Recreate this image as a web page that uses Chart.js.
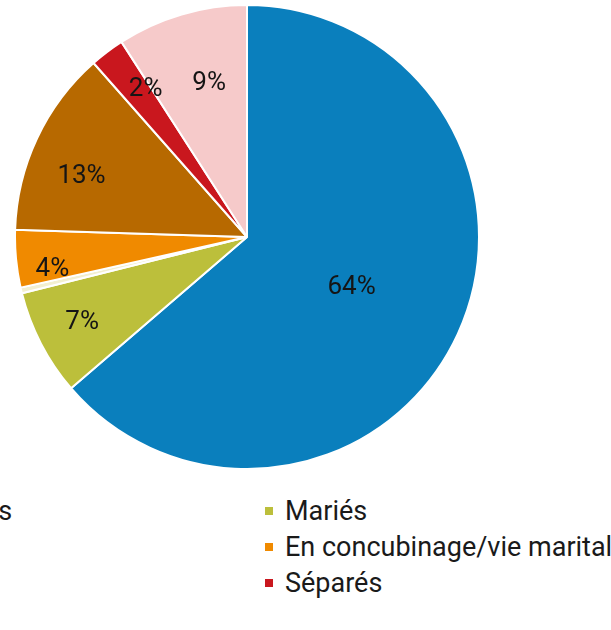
<!DOCTYPE html>
<html>
<head>
<meta charset="utf-8">
<script src="https://cdn.jsdelivr.net/npm/chart.js@4"></script>
<style>
  html, body { margin: 0; padding: 0; overflow: hidden; background: #fff; width: 611px; height: 630px; }
  #wrap { position: absolute; left: 14px; top: 4px; width: 466px; height: 466px; }
  #legend {
    position: absolute; left: -150px; top: 493px;
    display: grid; grid-template-columns: 415px 415px; grid-auto-rows: 36px;
    font-family: Roboto, "Noto Sans", sans-serif; font-size: 27px; color: #1a1a1a;
  }
  .item { display: flex; align-items: center; white-space: nowrap; }
  .box { width: 8px; height: 8px; margin-right: 12px; flex: none; }
</style>
</head>
<body>
<div id="wrap"><canvas id="pieChart"></canvas></div>
<div id="legend"></div>
<script>
// Data
const categories = [
  "Célibataires",
  "Mariés",
  "Pacsés",
  "En concubinage/vie maritale",
  "Divorcés",
  "Séparés",
  "Veufs",
];
const shares = [63.7, 7.4, 0.4, 4.0, 13.0, 2.4, 9.1];
const colors = [
  "#0a7fbd", // blue
  "#bcbf3b", // green
  "#f3efcf", // pale yellow
  "#f08a00", // orange
  "#b76900", // brown
  "#c9171e", // red
  "#f6caca", // pink
];

// label placement: distance as fraction of radius, and small angle nudge (deg)
const labelRadius = [0.5, 0.8, 0.8, 0.85, 0.76, 0.77, 0.68];
const labelNudge = [1, 0, 0, -4, -5, 2.5, 2.5];

// Draw % labels inside slices
const sliceLabels = {
  id: "sliceLabels",
  afterDatasetsDraw(chart) {
    const ctx = chart.ctx;
    const meta = chart.getDatasetMeta(0);
    ctx.save();
    ctx.font = "26px Roboto, sans-serif";
    ctx.fillStyle = "#151515";
    ctx.textAlign = "center";
    ctx.textBaseline = "middle";
    meta.data.forEach((arc, i) => {
      if (shares[i] < 1) return;
      const mid = (arc.startAngle + arc.endAngle) / 2 + labelNudge[i] * Math.PI / 180;
      const r = arc.outerRadius * labelRadius[i];
      const x = arc.x + Math.cos(mid) * r;
      const y = arc.y + Math.sin(mid) * r;
      ctx.fillText(Math.round(shares[i]) + "%", x, y);
    });
    ctx.restore();
  },
};

const ctx = document.getElementById("pieChart").getContext("2d");
const pieChart = new Chart(ctx, {
  type: "pie",
  data: {
    labels: categories,
    datasets: [
      {
        data: shares,
        backgroundColor: colors,
        borderColor: "#ffffff",
        borderWidth: 2,
      },
    ],
  },
  options: {
    responsive: true,
    maintainAspectRatio: false,
    animation: false,
    layout: { padding: 0 },
    plugins: {
      legend: { display: false },
      tooltip: { enabled: false },
    },
  },
  plugins: [sliceLabels],
});

// HTML legend, two columns
const legend = document.getElementById("legend");
categories.forEach((name, i) => {
  const item = document.createElement("div");
  item.className = "item";
  item.innerHTML = '<span class="box" style="background:' + colors[i] + '"></span>' + name;
  legend.appendChild(item);
});
</script>
</body>
</html>
